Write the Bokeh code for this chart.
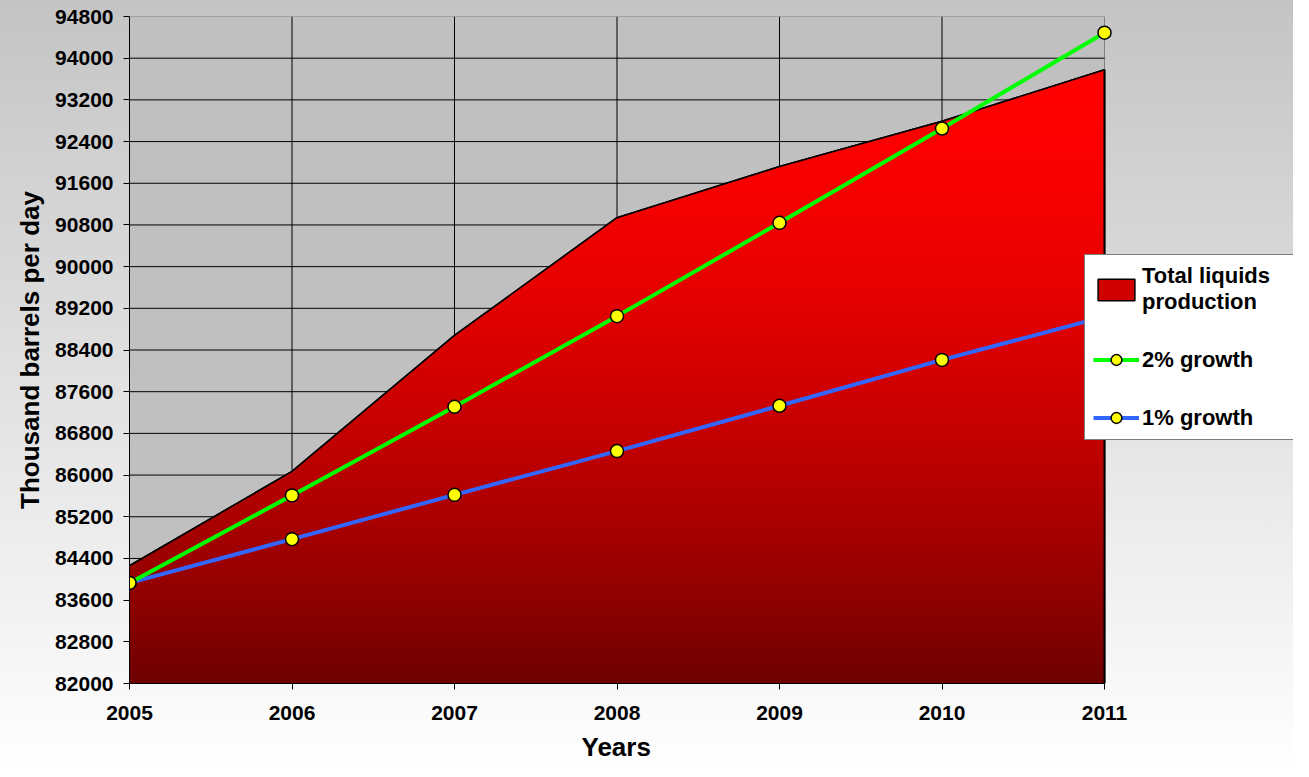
import numpy as np
from bokeh.plotting import figure
from bokeh.models import Range1d, FixedTicker, Legend, LegendItem, Title
from bokeh.embed import file_html
from bokeh.resources import INLINE

# ---------------- data ----------------
years = [2005, 2006, 2007, 2008, 2009, 2010, 2011]
total_liquids = [84260, 86070, 88680, 90940, 91920, 92790, 93780]
growth_2pct = [83930, 85610, 87310, 89050, 90840, 92650, 94490]
growth_1pct = [83930, 84770, 85620, 86460, 87330, 88210, 89040]
y_ticks = list(range(82000, 94801, 800))
series_names = ["Total liquids\nproduction", "2% growth", "1% growth"]
x_title = "Years"
y_title = "Thousand barrels per day"

Y_MIN, Y_MAX = y_ticks[0], y_ticks[-1]
X_MIN, X_MAX = years[0], years[-1]

FONT = "Liberation Sans"

# layout (pixels)
W, H = 1293, 775
LEFT, TOP = 129, 16
FRAME_H = 667
BOTTOM = H - TOP - FRAME_H
DATA_W = 975                      # pixel width of the 2005..2011 plot area
FRAME_W = W - LEFT                # frame runs to the right edge (room for legend)
X_END = X_MAX + (X_MAX - X_MIN) * (FRAME_W - DATA_W) / DATA_W

p = figure(
    width=W, height=H,
    min_border_left=LEFT, min_border_right=0, min_border_top=TOP, min_border_bottom=BOTTOM,
    x_range=Range1d(X_MIN, X_END), y_range=Range1d(Y_MIN, Y_MAX),
    output_backend="svg", toolbar_location=None,
    background_fill_color=None,
    border_fill_color=None,
)
p.styles = {"background": "linear-gradient(180deg, #C4C4C4 0%, #FFFFFF 100%)"}
p.outline_line_color = None
p.grid.visible = False

# plot area background
p.quad(left=[X_MIN], right=[X_MAX], bottom=[Y_MIN], top=[Y_MAX],
       fill_color="#C0C0C0", line_color="#808080", line_width=1)

# grid lines (interior ticks)
gy = y_ticks[1:-1]
p.segment(x0=[X_MIN] * len(gy), y0=gy, x1=[X_MAX] * len(gy), y1=gy,
          line_color="black", line_width=1)
gx = years[1:-1]
p.segment(x0=gx, y0=[Y_MIN] * len(gx), x1=gx, y1=[Y_MAX] * len(gx),
          line_color="black", line_width=1)

# ---------------- area (Total liquids) ----------------
area = p.patch(x=years + [years[-1], years[0]],
               y=total_liquids + [Y_MIN, Y_MIN],
               fill_color="#D00000", line_color="black", line_width=1.5)

nx, ny = DATA_W, FRAME_H
dx = (X_MAX - X_MIN) / nx
dy = (Y_MAX - Y_MIN) / ny
xc = X_MIN + (np.arange(nx) + 0.5) * dx
yc = Y_MIN + (np.arange(ny) + 0.5) * dy
top = np.interp(xc, years, total_liquids)
cov = np.clip((top[None, :] - yc[:, None]) / dy + 0.5, 0.0, 1.0)
tmax = max(total_liquids)
t = np.clip((tmax - yc) / (tmax - Y_MIN), 0.0, 1.0)
red = 255.0 - 145.0 * t ** 1.7
rgba = np.zeros((ny, nx, 4), dtype=np.uint8)
rgba[..., 0] = np.round(red)[:, None].astype(np.uint8)
rgba[..., 3] = np.round(cov * 255).astype(np.uint8)
img = rgba.view(np.uint32).reshape(ny, nx)
p.image_rgba(image=[img], x=X_MIN, y=Y_MIN, dw=X_MAX - X_MIN, dh=Y_MAX - Y_MIN)

p.line(years, total_liquids, line_color="black", line_width=1.6)
p.segment(x0=[years[-1]], y0=[Y_MIN], x1=[years[-1]], y1=[total_liquids[-1]],
          line_color="black", line_width=2)

# ---------------- growth lines ----------------
b_line = p.line(years, growth_1pct, line_color="#3366FF", line_width=4)
g_line = p.line(years, growth_2pct, line_color="#00FF00", line_width=4)
b_pts = p.scatter(years, growth_1pct, size=13, fill_color="#FFFF00",
                  line_color="black", line_width=1.5)
g_pts = p.scatter(years, growth_2pct, size=13, fill_color="#FFFF00",
                  line_color="black", line_width=1.5)

# ---------------- axes ----------------
for ax in (p.xaxis[0], p.yaxis[0]):
    ax.axis_line_color = "black"
    ax.axis_line_width = 1
    ax.major_tick_line_color = "black"
    ax.major_tick_out = 6
    ax.major_tick_in = 0
    ax.minor_tick_line_color = None
    ax.major_label_text_font = FONT
    ax.major_label_text_font_style = "bold"
    ax.major_label_text_font_size = "21px"
    ax.major_label_text_color = "black"
    ax.axis_label_text_font = FONT
    ax.axis_label_text_font_style = "bold"
    ax.axis_label_text_font_size = "26px"
    ax.axis_label_text_color = "black"

p.xaxis.bounds = (X_MIN, X_MAX)
p.xaxis.ticker = FixedTicker(ticks=years)
p.yaxis.ticker = FixedTicker(ticks=y_ticks)
p.xaxis.major_label_overrides = {v: str(v) for v in years}
p.yaxis.major_label_overrides = {v: str(v) for v in y_ticks}
p.yaxis.axis_label = y_title
p.xaxis.major_label_standoff = 16
p.yaxis.major_label_standoff = 10
p.yaxis.axis_label_standoff = 7

# x title, centred under the 2005..2011 plot area
x_title_width = 71  # approx. rendered width of the title text at 26px bold
p.add_layout(Title(text=x_title, align="left",
                   offset=DATA_W / 2 - x_title_width / 2,
                   vertical_align="top",
                   text_font=FONT, text_font_style="bold", text_font_size="26px",
                   text_color="black", standoff=18), "below")

# ---------------- legend ----------------
legend = Legend(
    items=[
        LegendItem(label=series_names[0], renderers=[area]),
        LegendItem(label=series_names[1], renderers=[g_line, g_pts]),
        LegendItem(label=series_names[2], renderers=[b_line, b_pts]),
    ],
    location=(DATA_W - 20, 243),
    margin=0, padding=8, spacing=31,
    glyph_width=46, glyph_height=27, label_standoff=3,
    label_height=27, label_width=175,
    label_text_font=FONT, label_text_font_style="bold", label_text_font_size="22px",
    label_text_line_height=1.25,
    label_text_color="black",
    border_line_color="black", border_line_width=1,
    background_fill_color="white", background_fill_alpha=1.0,
)
p.add_layout(legend, "center")

open("out.html", "w").write(file_html(p, INLINE))
